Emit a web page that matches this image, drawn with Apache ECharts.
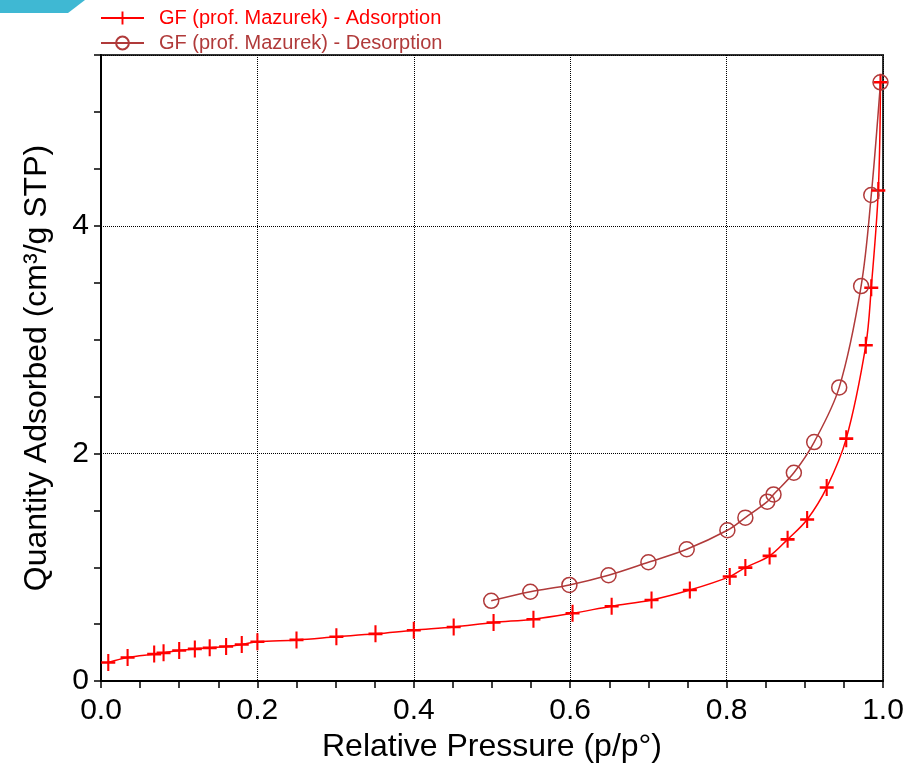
<!DOCTYPE html>
<html>
<head>
<meta charset="utf-8">
<script src="https://cdn.jsdelivr.net/npm/echarts@6/dist/echarts.min.js"></script>
<style>html,body{margin:0;padding:0;background:#fff;}#c{width:912px;height:768px;}</style>
</head>
<body>
<div id="c"></div>
<script>
var adsName = 'GF (prof. Mazurek) - Adsorption';
var desName = 'GF (prof. Mazurek) - Desorption';
var adsX = [0.0093,0.034,0.068,0.080,0.100,0.120,0.139,0.160,0.180,0.200,0.250,0.301,0.351,0.400,0.451,0.502,0.553,0.603,0.653,0.704,0.753,0.804,0.824,0.855,0.878,0.903,0.928,0.953,0.978,0.985,0.994,0.9968];
var adsY = [0.164,0.208,0.237,0.248,0.269,0.283,0.292,0.304,0.322,0.345,0.362,0.389,0.415,0.447,0.476,0.515,0.544,0.596,0.658,0.713,0.80,0.918,0.997,1.10,1.245,1.42,1.70,2.13,2.95,3.456,4.31,5.26];
var desX = [0.9968,0.985,0.972,0.944,0.912,0.886,0.860,0.852,0.824,0.801,0.749,0.700,0.649,0.599,0.549,0.499];
var desY = [5.26,4.27,3.47,2.58,2.10,1.83,1.64,1.576,1.436,1.325,1.158,1.044,0.93,0.845,0.785,0.705];
var xTickLabels = ['0.0','0.2','0.4','0.6','0.8','1.0'];
var yTickLabels = ['0','2','4'];

var FONT = 'Liberation Sans, Arial, sans-serif';
var adsColor = '#ff0000';
var desColor = '#b03a3a';
function pairs(xs, ys){ return xs.map(function(x,i){ return [x, ys[i]]; }); }
var crossPath = 'path://M-1.5,-10H1.5V-1.5H10V1.5H1.5V10H-1.5V1.5H-10V-1.5H-1.5Z';

var chart = echarts.init(document.getElementById('c'));
chart.setOption({
  animation: false,
  backgroundColor: '#fff',
  textStyle: { fontFamily: FONT },
  graphic: [{
    type: 'polygon', shape: { points: [[0,0],[85,0],[68,13],[0,13]] },
    style: { fill: '#3fb8d3' }
  }],
  legend: {
    orient: 'vertical', left: 100, top: 8, padding: 0, itemWidth: 43, itemHeight: 16, itemGap: 5,
    textStyle: { fontSize: 20, fontFamily: FONT, padding: [0,0,0,10] },
    data: [
      { name: adsName, textStyle: { color: adsColor } },
      { name: desName, textStyle: { color: desColor } }
    ]
  },
  grid: { left: 101, right: 29, top: 55, bottom: 85, show: true, borderColor: '#333', borderWidth: 2 },
  xAxis: [{
    type: 'value', min: 0, max: 1, interval: 0.05,
    name: 'Relative Pressure (p/p°)', nameLocation: 'middle', nameGap: 48,
    nameTextStyle: { fontSize: 32, color: '#000', fontFamily: FONT },
    axisLine: { lineStyle: { color: '#000', width: 2 } },
    axisTick: { inside: false, length: 7, lineStyle: { color: '#000', width: 1.5 } },
    axisLabel: { margin: 15, fontSize: 30, color: '#000', fontFamily: FONT,
      formatter: function(v){ var k = Math.round(v*5); return Math.abs(v*5-k) < 1e-6 ? xTickLabels[k] : ''; } },
    splitLine: { show: false }
  }, {
    type: 'value', min: 0, max: 1, interval: 0.2, position: 'bottom',
    axisLine: { show: false }, axisTick: { show: false }, axisLabel: { show: false },
    splitLine: { show: true, lineStyle: { color: '#000', width: 1, type: [1,1] } }
  }],
  yAxis: [{
    type: 'value', min: 0, max: 5.5, interval: 0.5,
    name: 'Quantity Adsorbed (cm³/g STP)', nameLocation: 'middle', nameGap: 48,
    nameTextStyle: { fontSize: 32, color: '#000', fontFamily: FONT },
    axisLine: { show: true, lineStyle: { color: '#000', width: 2 } },
    axisTick: { show: true, inside: false, length: 7, lineStyle: { color: '#000', width: 1.5 } },
    axisLabel: { margin: 12, fontSize: 30, color: '#000', fontFamily: FONT,
      formatter: function(v){ var k = Math.round(v/2); return (Math.abs(v/2-k) < 1e-6 && k < yTickLabels.length) ? yTickLabels[k] : ''; } },
    splitLine: { show: false }
  }, {
    type: 'value', min: 0, max: 5.5, interval: 2, position: 'left',
    axisLine: { show: false }, axisTick: { show: false }, axisLabel: { show: false },
    splitLine: { show: true, lineStyle: { color: '#000', width: 1, type: [1,1] } }
  }],
  series: [{
    name: adsName, type: 'line', data: pairs(adsX, adsY),
    smooth: 0.35,
    symbol: crossPath, symbolSize: [14,17],
    lineStyle: { color: adsColor, width: 1.5 },
    itemStyle: { color: adsColor }
  }, {
    name: desName, type: 'line', data: pairs(desX, desY),
    smooth: 0.35,
    symbol: 'circle', symbolSize: 15,
    lineStyle: { color: desColor, width: 1.5 },
    itemStyle: { color: 'rgba(0,0,0,0)', borderColor: desColor, borderWidth: 1.5 }
  }]
});
</script>
</body>
</html>
